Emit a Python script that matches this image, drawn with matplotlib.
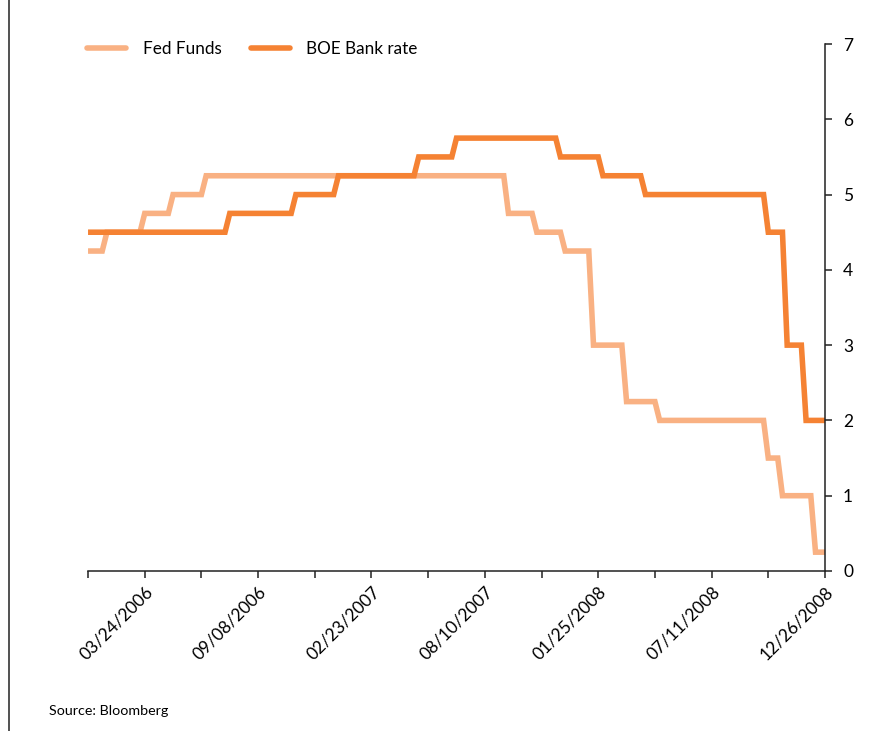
import matplotlib
matplotlib.use('Agg')
import matplotlib.pyplot as plt
import matplotlib.dates as mdates
import pandas as pd
from matplotlib.lines import Line2D

plt.rcParams['font.family'] = ['Lato', 'DejaVu Sans']

# Weekly series vertices (Fridays): value held until the next change
fed_dates = ['2005-12-30', '2006-01-20', '2006-01-27', '2006-03-17', '2006-03-24',
             '2006-04-28', '2006-05-05', '2006-06-16', '2006-06-23', '2007-09-07',
             '2007-09-14', '2007-10-19', '2007-10-26', '2007-11-30', '2007-12-07',
             '2008-01-11', '2008-01-18', '2008-02-29', '2008-03-07', '2008-04-18',
             '2008-04-25', '2008-09-26', '2008-10-03', '2008-10-17', '2008-10-24',
             '2008-12-05', '2008-12-12', '2008-12-26']
fed_values = [4.25, 4.25, 4.5, 4.5, 4.75,
              4.75, 5.0, 5.0, 5.25, 5.25,
              4.75, 4.75, 4.5, 4.5, 4.25,
              4.25, 3.0, 3.0, 2.25, 2.25,
              2.0, 2.0, 1.5, 1.5, 1.0,
              1.0, 0.25, 0.25]

boe_dates = ['2005-12-30', '2006-07-21', '2006-07-28', '2006-10-27', '2006-11-03',
             '2006-12-29', '2007-01-05', '2007-04-27', '2007-05-04', '2007-06-22',
             '2007-06-29', '2007-11-23', '2007-11-30', '2008-01-25', '2008-02-01',
             '2008-03-28', '2008-04-04', '2008-09-26', '2008-10-03', '2008-10-24',
             '2008-10-31', '2008-11-21', '2008-11-28', '2008-12-26']
boe_values = [4.5, 4.5, 4.75, 4.75, 5.0,
              5.0, 5.25, 5.25, 5.5, 5.5,
              5.75, 5.75, 5.5, 5.5, 5.25,
              5.25, 5.0, 5.0, 4.5, 4.5,
              3.0, 3.0, 2.0, 2.0]

label_dates = ['2006-03-24', '2006-09-08', '2007-02-23', '2007-08-10',
               '2008-01-25', '2008-07-11', '2008-12-26']
minor_dates = ['2005-12-30', '2006-06-16', '2006-12-01', '2007-05-18',
               '2007-11-02', '2008-04-18', '2008-10-03']

fed_color = '#F9B183'
boe_color = '#F58233'

fig = plt.figure(figsize=(8.91, 7.31), dpi=100)
ax = fig.add_axes([0.0988, 0.2189, 0.9259 - 0.0988, 0.9398 - 0.2189])

ax.plot(pd.to_datetime(fed_dates), fed_values, color=fed_color, lw=4.0,
        solid_capstyle='butt', solid_joinstyle='miter', label='Fed Funds')
ax.plot(pd.to_datetime(boe_dates), boe_values, color=boe_color, lw=4.0,
        solid_capstyle='butt', solid_joinstyle='miter', label='BOE Bank rate')

ax.set_xlim(pd.Timestamp('2005-12-30'), pd.Timestamp('2008-12-26'))
ax.set_ylim(0, 7)

# value axis on the right, no top/left frame
for side in ['top', 'left']:
    ax.spines[side].set_visible(False)
for side in ['right', 'bottom']:
    ax.spines[side].set_color('#222222')
    ax.spines[side].set_linewidth(1.1)

ax.yaxis.tick_right()
ax.set_yticks(range(0, 8))
ax.tick_params(axis='y', direction='out', length=5, width=1.1, pad=8,
               labelsize=12.5, colors='#222222', labelcolor='black')

ax.set_xticks(pd.to_datetime(label_dates))
ax.set_xticks(pd.to_datetime(minor_dates), minor=True)
ax.xaxis.set_major_formatter(mdates.DateFormatter('%m/%d/%Y'))
ax.tick_params(axis='x', which='both', direction='out', length=5, width=1.1,
               colors='#222222', labelcolor='black')
ax.tick_params(axis='x', which='major', labelsize=12.5, pad=4)
for lbl in ax.get_xticklabels():
    lbl.set_rotation(45)
    lbl.set_ha('right')
    lbl.set_rotation_mode('anchor')

leg = ax.legend(loc='upper left', bbox_to_anchor=(-0.022, 1.035), ncol=2,
                frameon=False, fontsize=12.3, handlelength=2.3,
                handletextpad=0.95, columnspacing=1.7)
for h in leg.get_lines():
    h.set_solid_capstyle('round')

fig.text(49 / 891, 1 - 711 / 731, 'Source: Bloomberg', fontsize=10.3,
         va='center', ha='left')

# page border on the left
fig.add_artist(Line2D([8.5 / 891, 8.5 / 891], [0, 1], color='#333333', lw=1.2))

fig.savefig('out.png', dpi=100)
